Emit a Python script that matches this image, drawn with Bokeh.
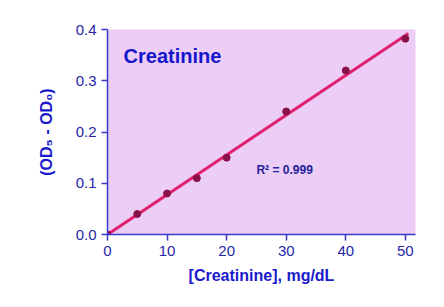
from bokeh.plotting import figure
from bokeh.models import ColumnDataSource, Range1d, FixedTicker, NumeralTickFormatter, Label
from bokeh.embed import file_html
from bokeh.resources import INLINE

conc = [0, 5, 10, 15, 20, 30, 40, 50]
od = [0.0, 0.04, 0.08, 0.11, 0.15, 0.24, 0.32, 0.382]
fit_x = [0, 50.5]
fit_y = [0.0, 0.392]
x_ticks = [0, 10, 20, 30, 40, 50]
y_ticks = [0.0, 0.1, 0.2, 0.3, 0.4]

FONT = "Liberation Sans"
AXIS_BLUE = "#3a3acc"
TEXT_BLUE = "#2626a8"

p = figure(width=444, height=307, output_backend="svg", toolbar_location=None,
           x_range=Range1d(0, 51.7), y_range=Range1d(0, 0.4),
           min_border_left=107, min_border_right=29, min_border_top=29, min_border_bottom=73)
p.background_fill_color = "#ebcdf6"
p.border_fill_color = "white"
p.outline_line_color = None
p.grid.visible = False

for ax in (p.xaxis[0], p.yaxis[0]):
    ax.axis_line_color = AXIS_BLUE
    ax.axis_line_width = 1.5
    ax.major_tick_line_color = AXIS_BLUE
    ax.major_tick_line_width = 1.5
    ax.major_tick_out = 6
    ax.major_tick_in = 0
    ax.minor_tick_line_color = None
    ax.major_label_text_color = TEXT_BLUE
    ax.major_label_text_font = FONT
    ax.major_label_text_font_size = "15px"
    ax.axis_label_text_color = "#1a1acc"
    ax.axis_label_text_font = FONT
    ax.axis_label_text_font_style = "bold"
    ax.axis_label_text_font_size = "16px"

p.xaxis.ticker = FixedTicker(ticks=x_ticks)
p.yaxis.ticker = FixedTicker(ticks=y_ticks)
p.yaxis.formatter = NumeralTickFormatter(format="0.0")
p.xaxis.axis_label = "[Creatinine], mg/dL"
p.yaxis.axis_label = "(OD\u2085 - OD\u2080)"
p.xaxis.axis_label_standoff = 8
p.yaxis.axis_label_standoff = 18

p.line(fit_x, fit_y, line_color="#e0206e", line_width=3)
src = ColumnDataSource(dict(x=conc, y=od))
p.scatter("x", "y", source=src, size=7, fill_color="#8a1048", line_color="#8a1048")

p.add_layout(Label(x=2.7, y=0.349, text="Creatinine",
                   text_font=FONT, text_font_style="bold", text_font_size="20px",
                   text_color="#1515cc", text_baseline="middle"))
p.add_layout(Label(x=25.0, y=0.125, text="R\u00b2 = 0.999",
                   text_font=FONT, text_font_style="bold", text_font_size="12px",
                   text_color="#23239a", text_baseline="middle"))

open("out.html", "w").write(file_html(p, INLINE))
